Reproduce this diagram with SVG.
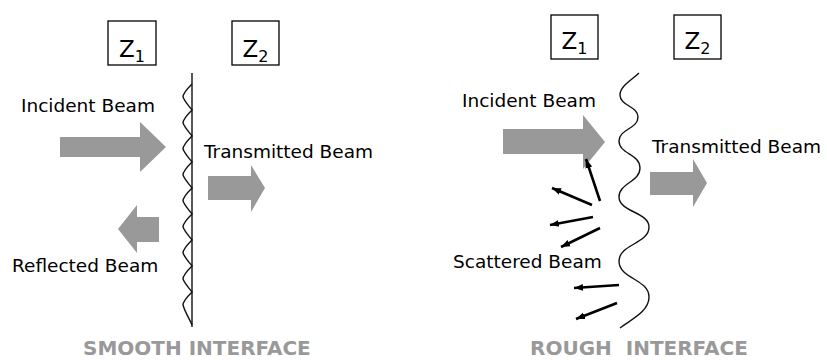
<svg xmlns="http://www.w3.org/2000/svg" width="827" height="361" viewBox="0 0 827 361">
<style>
.lbl{font-family:"DejaVu Sans","Verdana",sans-serif;font-size:18.5px;fill:#000}
.z{font-family:"DejaVu Sans","Verdana",sans-serif;font-size:23px;fill:#000}
.ttl{font-family:"DejaVu Sans","Verdana",sans-serif;font-size:20px;font-weight:bold;fill:#999;white-space:pre}
.box{fill:#fff;stroke:#000;stroke-width:1.3}
.beam{fill:#999;stroke:none}
.iface{fill:none;stroke:#111;stroke-width:1.4}
.scat{stroke:#000;stroke-width:2.6;fill:none;marker-end:url(#ah)}
</style>
<defs>
<marker id="ah" markerUnits="userSpaceOnUse" markerWidth="10" markerHeight="10" viewBox="0 0 10 10" refX="9" refY="5" orient="auto">
<path d="M0,1.5 L9,5 L0,8.5 Z" fill="#000"/>
</marker>
</defs>
<rect width="827" height="361" fill="#fff"/>

<!-- LEFT: smooth interface -->
<g id="z1-left"><rect class="box" x="108" y="21" width="48" height="44"/><text class="z" x="132" y="57" text-anchor="middle">Z<tspan font-size="16" dy="5">1</tspan></text></g>
<g id="z2-left"><rect class="box" x="232" y="21" width="47" height="44"/><text class="z" x="255.5" y="57" text-anchor="middle">Z<tspan font-size="16" dy="5">2</tspan></text></g>
<g id="smooth-interface">
<line class="iface" x1="192" y1="73" x2="192" y2="327"/>
<path class="iface" stroke-width="1.2" d="M192,84 C187,89 183,94 183,97 C185,102 189,106 192,110 C187,115 183,120 183,123 C185,128 189,132 192,136 C187,141 183,146 183,149 C185,154 189,158 192,162 C187,167 183,172 183,175 C185,180 189,184 192,188 C187,193 183,198 183,201 C185,206 189,210 192,214 C187,219 183,224 183,227 C185,232 189,236 192,240 C187,245 183,250 183,253 C185,258 189,262 192,266 C187,271 183,276 183,279 C185,284 189,288 192,292 C187,297 183,302 183,305 C185,312 189,318 192,325"/>
</g>
<g id="incident-left"><path class="beam" d="M60,137 H140 V122 L166,147 L140,172 V157 H60 Z"/><text class="lbl" x="21" y="112">Incident Beam</text></g>
<g id="transmitted-left"><path class="beam" d="M208,176 H251 V165 L265,188 L251,212 V200 H208 Z"/><text class="lbl" x="204" y="158">Transmitted Beam</text></g>
<g id="reflected-left"><path class="beam" d="M159,217 H137 V205 L118,229 L137,253 V242 H159 Z"/><text class="lbl" x="12" y="272">Reflected Beam</text></g>
<text class="ttl" x="83" y="355">SMOOTH INTERFACE</text>

<!-- RIGHT: rough interface -->
<g id="z1-right"><rect class="box" x="551" y="15" width="47" height="44"/><text class="z" x="574.5" y="49" text-anchor="middle">Z<tspan font-size="16" dy="5">1</tspan></text></g>
<g id="z2-right"><rect class="box" x="674" y="15" width="47" height="44"/><text class="z" x="697.5" y="49" text-anchor="middle">Z<tspan font-size="16" dy="5">2</tspan></text></g>
<g id="rough-interface">
<path class="iface" stroke-width="1.3" d="M639,73 C632,80 620,86 620,95 C620,106 638,106 638,117 C638,129 619,129 619,141 C619,154 640,154 640,168 C640,182 619,183 619,197 C619,212 649,212 649,227 C649,244 619,244 619,261 C619,279 649,279 649,297 C649,312 630,320 620,328"/>
</g>
<g id="incident-right"><path class="beam" d="M503,129 H583 V115 L605,142 L583,169 V154 H503 Z"/><text class="lbl" x="462" y="107">Incident Beam</text></g>
<g id="transmitted-right"><path class="beam" d="M650,172 H693 V159 L707,183 L693,207 V195 H650 Z"/><text class="lbl" x="652" y="153">Transmitted Beam</text></g>
<g id="scattered-right">
<text class="lbl" x="453" y="268">Scattered Beam</text>
</g>
<g id="connectors">
<line class="scat" x1="600" y1="201" x2="586" y2="159"/>
<line class="scat" x1="592" y1="205" x2="552" y2="188"/>
<line class="scat" x1="593" y1="217" x2="550" y2="225"/>
<line class="scat" x1="600" y1="228" x2="561" y2="247"/>
<line class="scat" x1="619" y1="285" x2="574" y2="288"/>
<line class="scat" x1="617" y1="303" x2="576" y2="319"/>
</g>
<text class="ttl" x="530" y="355" xml:space="preserve">ROUGH  INTERFACE</text>
</svg>
